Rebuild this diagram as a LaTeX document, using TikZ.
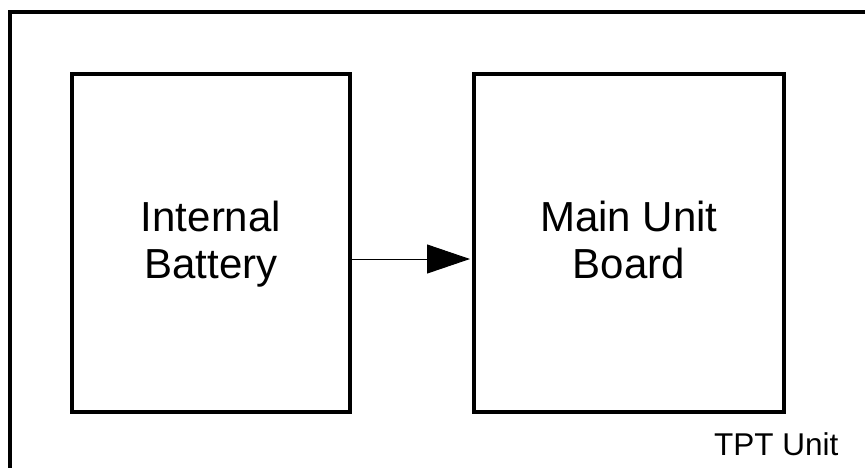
\documentclass[tikz,border=0pt]{standalone}
\usepackage{fontspec}
\setmainfont{Liberation Sans}
\usetikzlibrary{arrows.meta}
\begin{document}
\begin{tikzpicture}[x=1pt,y=-1pt,
  frame/.style={line width=4pt},
  blockbox/.style={draw, line width=4pt, inner sep=0pt, minimum width=#1, minimum height=338pt},
  lbl/.style={anchor=base, inner sep=0pt, font=\fontsize{42}{47}\selectfont},
  tag/.style={anchor=base west, inner sep=0pt, font=\fontsize{31.5}{36}\selectfont},
  conn/.style={line width=1pt, -{Triangle[length=43pt,width=29pt]}}]
\useasboundingbox (0,0) rectangle (865,467);
\coordinate (fbl) at (10,470);
\coordinate (ftl) at (10,12);
\coordinate (ftr) at (870,12);
\draw[frame] (fbl) -- (ftl) -- (ftr);
\node[blockbox=278pt] (b1) at (211,243) {};
\node[blockbox=310pt] (b2) at (629,243) {};
\node[lbl] (t1a) at (211,231) {Internal};
\node[lbl] (t1b) at (211,278) {Battery};
\node[lbl] (t2a) at (629,231) {Main Unit};
\node[lbl] (t2b) at (629,278) {Board};
\node[tag] (tpt) at (714,455) {TPT Unit};
\coordinate (ay) at (0,259);
\draw[conn] (b1.east |- ay) -- ([xshift=-2pt]b2.west |- ay);
\end{tikzpicture}
\end{document}
